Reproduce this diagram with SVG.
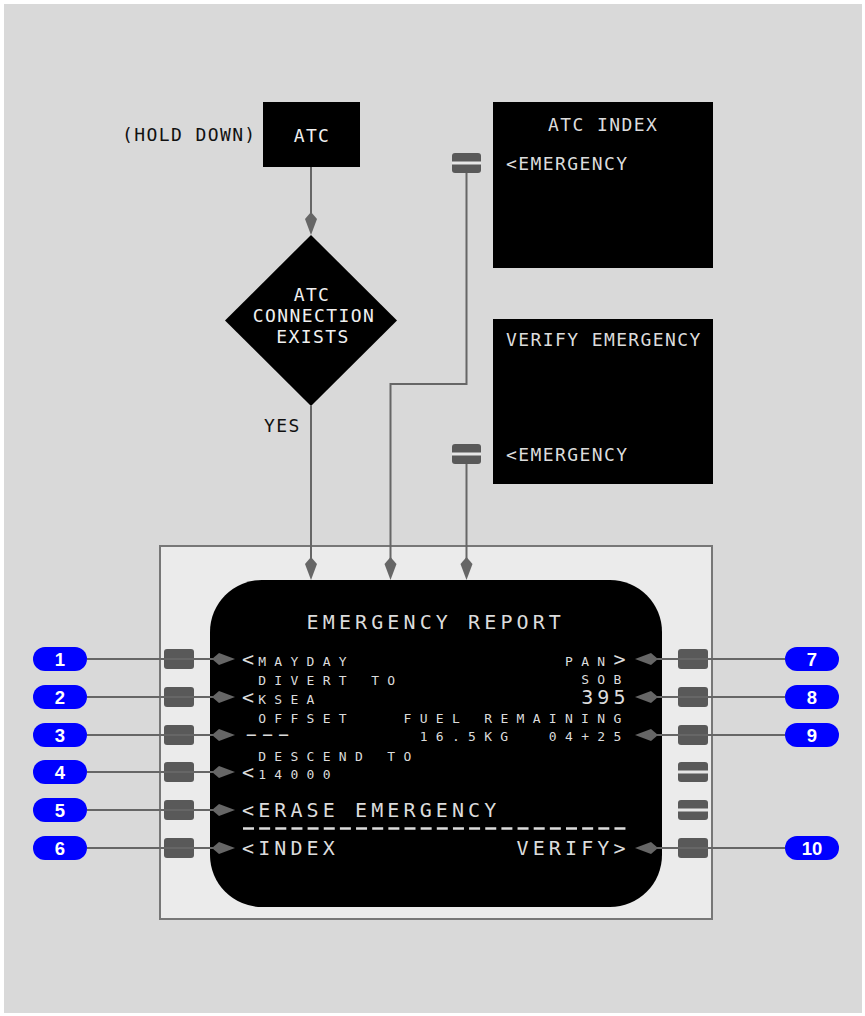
<svg xmlns="http://www.w3.org/2000/svg" width="865" height="1016" viewBox="0 0 865 1016">
<style>
.lbl{font-family:"DejaVu Sans Mono",monospace;font-size:18px;letter-spacing:1.4px}
.scr{font-family:"DejaVu Sans Mono",monospace;fill:#dcdcdc}
.L{font-size:20px;letter-spacing:4.11px}
.S{font-size:13px;letter-spacing:8.32px}
.btn{fill:#595959}
.stripe{fill:#e6e6e6}
.pill{fill:#0000ff}
.num{font-family:"Liberation Sans",Arial,sans-serif;font-weight:bold;font-size:18.5px;fill:#fff;text-anchor:middle}
.conn{stroke:#666;stroke-width:2;fill:none;marker-end:url(#ah)}
</style>
<defs>
<marker id="ah" markerWidth="23" markerHeight="13" refX="15" refY="6.5" orient="auto" markerUnits="userSpaceOnUse" viewBox="0 0 23 13">
<path d="M0,6.5 L7,0.5 L23,6.5 L7,12.5 Z" fill="#666"/>
</marker>
</defs>
<rect x="0" y="0" width="865" height="1016" fill="#fff"/>
<rect x="4" y="4" width="858" height="1009" fill="#d9d9d9"/>

<g id="hold-label"><text class="lbl" x="122" y="140.5" fill="#111">(HOLD DOWN)</text></g>
<g id="atc-key">
<rect x="263" y="102" width="97" height="65" fill="#000"/>
<text class="lbl" x="312" y="142" fill="#f0f0f0" text-anchor="middle">ATC</text>
</g>
<g id="decision">
<polygon points="311,235 397,320.5 311,406 225,320.5" fill="#000"/>
<text class="lbl" x="312" y="300.5" fill="#f0f0f0" text-anchor="middle">ATC</text>
<text class="lbl" x="314" y="322" fill="#f0f0f0" text-anchor="middle">CONNECTION</text>
<text class="lbl" x="313" y="343" fill="#f0f0f0" text-anchor="middle">EXISTS</text>
</g>
<g id="yes-label"><text class="lbl" x="264" y="432" fill="#111">YES</text></g>

<g id="atc-index-page">
<rect x="493" y="102" width="220" height="166" fill="#000"/>
<text class="lbl" x="548" y="131" fill="#dcdcdc">ATC INDEX</text>
<text class="lbl" x="506" y="170" fill="#dcdcdc">&lt;EMERGENCY</text>
<rect class="btn" x="452" y="153" width="29" height="20" rx="3"/>
<rect class="stripe" x="452" y="161.5" width="29" height="3"/>
</g>
<g id="verify-page">
<rect x="493" y="319" width="220" height="165" fill="#000"/>
<text class="lbl" x="506" y="346" fill="#dcdcdc">VERIFY EMERGENCY</text>
<text class="lbl" x="506" y="460.5" fill="#dcdcdc">&lt;EMERGENCY</text>
<rect class="btn" x="452" y="444" width="29" height="20" rx="3"/>
<rect class="stripe" x="452" y="452.5" width="29" height="3"/>
</g>

<g id="cdu">
<rect x="160" y="546" width="552" height="373" fill="#ebebeb" stroke="#777" stroke-width="2"/>
<rect x="210" y="580" width="452" height="327" rx="52" fill="#000"/>
<rect class="btn" x="164" y="649" width="30" height="20" rx="3"/>
<rect class="btn" x="164" y="687" width="30" height="20" rx="3"/>
<rect class="btn" x="164" y="725" width="30" height="20" rx="3"/>
<rect class="btn" x="164" y="762" width="30" height="20" rx="3"/>
<rect class="btn" x="164" y="800" width="30" height="20" rx="3"/>
<rect class="btn" x="164" y="838" width="30" height="20" rx="3"/>
<rect class="btn" x="678" y="649" width="30" height="20" rx="3"/>
<rect class="btn" x="678" y="687" width="30" height="20" rx="3"/>
<rect class="btn" x="678" y="725" width="30" height="20" rx="3"/>
<rect class="btn" x="678" y="762" width="30" height="20" rx="3"/>
<rect class="stripe" x="678" y="770.5" width="30" height="3"/>
<rect class="btn" x="678" y="800" width="30" height="20" rx="3"/>
<rect class="stripe" x="678" y="808.5" width="30" height="3"/>
<rect class="btn" x="678" y="838" width="30" height="20" rx="3"/>
<g class="scr">
<text class="L" x="306.6" y="629">EMERGENCY REPORT</text>
<text class="L" x="242" y="666">&lt;</text>
<text class="S" x="258.15" y="666">MAYDAY</text>
<text class="S" x="565" y="666">PAN</text>
<text class="L" x="613.45" y="666">&gt;</text>
<text class="S" x="258.15" y="685">DIVERT TO</text>
<text class="S" x="581.15" y="684">SOB</text>
<text class="L" x="581.15" y="704">395</text>
<text class="L" x="242" y="704">&lt;</text>
<text class="S" x="258.15" y="704">KSEA</text>
<text class="S" x="258.15" y="723">OFFSET</text>
<text class="S" x="403.5" y="723">FUEL REMAINING</text>
<text font-size="20" letter-spacing="-3.07" transform="translate(240.5,741) scale(1.8,1)">---</text>
<text class="S" x="419.65" y="741">16.5KG</text>
<text class="S" x="548.85" y="741">04+25</text>
<text class="S" x="258.15" y="761">DESCEND TO</text>
<text class="L" x="242" y="779">&lt;</text>
<text class="S" x="258.15" y="779">14000</text>
<text class="L" x="242" y="817">&lt;ERASE EMERGENCY</text>
<line x1="243" y1="828.5" x2="627" y2="828.5" stroke="#dcdcdc" stroke-width="2.5" stroke-dasharray="11 5.15"/>
<text class="L" x="242" y="855">&lt;INDEX</text>
<text class="L" x="516.55" y="855">VERIFY&gt;</text>
</g>
</g>

<g id="pill-1"><rect class="pill" x="33" y="647" width="54" height="24" rx="12"/><text class="num" x="60" y="665.6">1</text></g>
<g id="pill-2"><rect class="pill" x="33" y="685" width="54" height="24" rx="12"/><text class="num" x="60" y="703.6">2</text></g>
<g id="pill-3"><rect class="pill" x="33" y="723" width="54" height="24" rx="12"/><text class="num" x="60" y="741.6">3</text></g>
<g id="pill-4"><rect class="pill" x="33" y="760" width="54" height="24" rx="12"/><text class="num" x="60" y="778.6">4</text></g>
<g id="pill-5"><rect class="pill" x="33" y="798" width="54" height="24" rx="12"/><text class="num" x="60" y="816.6">5</text></g>
<g id="pill-6"><rect class="pill" x="33" y="836" width="54" height="24" rx="12"/><text class="num" x="60" y="854.6">6</text></g>
<g id="pill-7"><rect class="pill" x="785" y="647" width="54" height="24" rx="12"/><text class="num" x="812" y="665.6">7</text></g>
<g id="pill-8"><rect class="pill" x="785" y="685" width="54" height="24" rx="12"/><text class="num" x="812" y="703.6">8</text></g>
<g id="pill-9"><rect class="pill" x="785" y="723" width="54" height="24" rx="12"/><text class="num" x="812" y="741.6">9</text></g>
<g id="pill-10"><rect class="pill" x="785" y="836" width="54" height="24" rx="12"/><text class="num" x="812" y="854.6">10</text></g>

<g id="connectors">
<path class="conn" d="M311,167 V227"/>
<path class="conn" d="M311,406 V572"/>
<path class="conn" d="M466.5,173 V384 H390.5 V572"/>
<path class="conn" d="M466.5,464 V572"/>
<path class="conn" d="M87,659 H227"/>
<path class="conn" d="M87,697 H227"/>
<path class="conn" d="M87,735 H227"/>
<path class="conn" d="M87,772 H227"/>
<path class="conn" d="M87,810 H227"/>
<path class="conn" d="M87,848 H227"/>
<path class="conn" d="M785,659 H643"/>
<path class="conn" d="M785,697 H643"/>
<path class="conn" d="M785,735 H643"/>
<path class="conn" d="M785,848 H643"/>
</g>
</svg>
